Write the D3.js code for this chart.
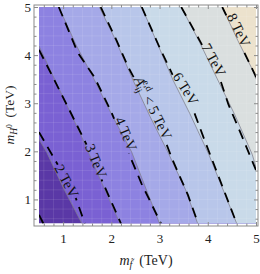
<!DOCTYPE html>
<html>
<head>
<meta charset="utf-8">
<script src="https://cdn.jsdelivr.net/npm/d3@7/dist/d3.min.js"></script>
<style>
  body { margin: 0; background: #fff; }
  svg { display: block; }
  text { font-family: "Liberation Serif", "DejaVu Serif", serif; fill: #222; }
</style>
</head>
<body>
<svg id="chart"></svg>
<script>
// contour levels of A_ij^{e,d} (TeV) and the fill colour of each band (lowest first)
var levels = [2, 3, 4, 5, 6, 7, 8];
var bandColors = ["#5a38a6", "#7a61d3", "#8d82e1", "#a5a9e8", "#b8c6ea", "#c9dae9", "#dadfdf", "#ece2cd"];

// filled contour boundaries, points are [m_f, m_H] in TeV
var edge2 = [[0.5, 2.25], [0.66, 1.98], [1.0, 1.25], [1.39, 0.5]];
var edge3 = [[0.5, 4.19], [0.93, 3.27], [1.35, 2.38], [1.76, 1.44], [2.18, 0.5]];
var edge4 = [[0.91, 5], [1.27, 4.21], [1.65, 3.48], [2.01, 2.76], [2.42, 1.99], [3.0, 0.5]];
var edge5 = [[1.75, 5], [2.09, 4.31], [2.45, 3.48], [2.8, 2.73], [3.17, 1.99], [3.54, 1.2], [3.79, 0.5]];
var edge6 = [[2.63, 5], [2.96, 4.23], [3.28, 3.48], [3.63, 2.78], [4.02, 1.94], [4.6, 0.5]];
var edge7 = [[3.45, 5], [3.83, 4.27], [4.19, 3.52], [4.56, 2.76], [4.92, 1.94], [5, 1.67]];
var edge8 = [[4.3, 5], [4.62, 4.31], [4.99, 3.57], [5, 3.5]];

// dashed (approximate) curves
var dash1 = [[0.5, 0.68], [0.59, 0.5]];
var dash2 = [[0.5, 2.4], [0.89, 1.72], [1.27, 1.01], [1.45, 0.5]];
var dash3 = [[0.5, 4.11], [0.82, 3.48], [1.13, 2.86], [1.54, 2.03], [1.82, 1.36], [2.2, 0.5]];
var dash4 = [[0.91, 5], [1.3, 4.06], [1.65, 3.54], [1.99, 2.84], [2.63, 1.32], [3.03, 0.5]];
var dash5 = [[1.78, 5], [2.11, 4.3], [2.35, 3.75], [2.73, 3.05], [3.04, 2.42], [3.27, 1.82], [3.59, 1.09], [3.8, 0.5]];
var dash6 = [[2.63, 5], [3.0, 4.16], [3.28, 3.57], [3.67, 2.94], [3.93, 2.24], [4.6, 0.5]];
var dash7 = [[3.45, 5], [3.85, 4.27], [4.23, 3.57], [4.43, 2.97], [4.71, 2.31], [5, 1.61]];
var dash8 = [[4.3, 5], [4.6, 4.38], [4.99, 3.57], [5, 3.52]];

// contour labels: text and where it sits [m_f, m_H]
var labelText = ["2 TeV", "3 TeV", "4 TeV", "5 TeV", "6 TeV", "7 TeV", "8 TeV"];
var labelPos = [[1.07, 1.38], [1.68, 1.8], [2.3, 2.36], [2.86, 2.9], [3.54, 3.3], [4.12, 3.9], [4.64, 4.52]];

var xTicks = [1, 2, 3, 4, 5];
var yTicks = [1, 2, 3, 4, 5];

var edges = [edge2, edge3, edge4, edge5, edge6, edge7, edge8];
var dashes = [dash1, dash2, dash3, dash4, dash5, dash6, dash7, dash8];
var labelLine = [dash2, dash3, dash4, dash5, dash6, dash7, dash8];

var width = 260, height = 274;
var svg = d3.select("#chart").attr("width", width).attr("height", height);

var x = d3.scaleLinear().domain([0.5, 5]).range([39, 256]);
var y = d3.scaleLinear().domain([0.5, 5]).range([223.5, 7]);

var frame = {left: 34, right: 258, top: 5, bottom: 226};

var defs = svg.append("defs");
defs.append("clipPath").attr("id", "plotclip")
  .append("rect")
  .attr("x", x(0.5)).attr("y", y(5))
  .attr("width", x(5) - x(0.5)).attr("height", y(0.5) - y(5));

var line = d3.line().x(function(d){ return x(d[0]); }).y(function(d){ return y(d[1]); });

var plot = svg.append("g").attr("clip-path", "url(#plotclip)");

// lowest band covers everything, each higher band painted on top
plot.append("rect")
  .attr("x", x(0.5)).attr("y", y(5))
  .attr("width", x(5) - x(0.5)).attr("height", y(0.5) - y(5))
  .attr("fill", bandColors[0]);

function highSide(pts){
  var poly = pts.slice();
  var last = pts[pts.length - 1], first = pts[0];
  if (last[1] <= 0.5) poly.push([5, 0.5]);
  poly.push([5, 5]);
  if (first[0] <= 0.5) poly.push([0.5, 5]);
  return poly;
}

plot.selectAll(".band")
  .data(edges)
  .enter()
  .append("path")
  .attr("class", "band")
  .attr("d", function(d){ return line(highSide(d)) + "Z"; })
  .attr("fill", function(d, i){ return bandColors[i + 1]; });

// faint mesh like the original rendering
var mesh = d3.range(0.6, 5, 0.2);
plot.selectAll(".vmesh").data(mesh).enter().append("line")
  .attr("x1", function(d){ return x(d); }).attr("x2", function(d){ return x(d); })
  .attr("y1", y(5)).attr("y2", y(0.5))
  .attr("stroke", "#fff").attr("stroke-opacity", 0.1).attr("stroke-width", 1);
plot.selectAll(".hmesh").data(mesh).enter().append("line")
  .attr("y1", function(d){ return y(d); }).attr("y2", function(d){ return y(d); })
  .attr("x1", x(0.5)).attr("x2", x(5))
  .attr("stroke", "#fff").attr("stroke-opacity", 0.1).attr("stroke-width", 1);

// grey contour edges
plot.selectAll(".edge")
  .data(edges)
  .enter()
  .append("path")
  .attr("class", "edge")
  .attr("d", line)
  .attr("fill", "none")
  .attr("stroke", "#80808c")
  .attr("stroke-width", 0.9)
  .attr("stroke-opacity", 0.85);

// mask so the dashes break around the labels
var mask = defs.append("mask").attr("id", "labelmask")
  .attr("maskUnits", "userSpaceOnUse")
  .attr("x", 0).attr("y", 0).attr("width", width).attr("height", height);
mask.append("rect").attr("width", width).attr("height", height).attr("fill", "#fff");

plot.append("g").attr("mask", "url(#labelmask)")
  .selectAll(".dash")
  .data(dashes)
  .enter()
  .append("path")
  .attr("class", "dash")
  .attr("d", line)
  .attr("fill", "none")
  .attr("stroke", "#000")
  .attr("stroke-width", 1.8)
  .attr("stroke-dasharray", "10,7");

function angleAt(pts, p){
  var py = y(p[1]);
  for (var i = 0; i < pts.length - 1; i++) {
    var y0 = y(pts[i][1]), y1 = y(pts[i + 1][1]);
    if (py >= y0 && py <= y1) {
      return Math.atan2(y1 - y0, x(pts[i + 1][0]) - x(pts[i][0])) * 180 / Math.PI;
    }
  }
  return 65;
}

var labels = plot.append("g");
labelText.forEach(function(t, i){
  var p = labelPos[i];
  var a = angleAt(labelLine[i], p);
  var tr = "translate(" + x(p[0]) + "," + y(p[1]) + ") rotate(" + a + ")";
  var tx = labels.append("text")
    .attr("transform", tr)
    .attr("text-anchor", "middle")
    .attr("dy", "0.33em")
    .style("font-size", "14.5px")
    .style("fill", "#111");
  if (i == 3) {
    tx.append("tspan").style("font-style", "italic").text("A");
    tx.append("tspan").style("font-size", "9.5px").attr("dy", 3).text("ij");
    tx.append("tspan").style("font-size", "9.5px").attr("dx", -8).attr("dy", -10).text("e,d");
    tx.append("tspan").attr("dy", 7).text(" < " + t);
  } else {
    tx.text(t);
  }
  var b = tx.node().getBBox();
  mask.append("rect")
    .attr("transform", tr)
    .attr("x", b.x - 1).attr("y", b.y + 1)
    .attr("width", b.width + 2).attr("height", b.height - 2)
    .attr("fill", "#000");
});

// frame
svg.append("rect")
  .attr("x", frame.left).attr("y", frame.top)
  .attr("width", frame.right - frame.left).attr("height", frame.bottom - frame.top)
  .attr("fill", "none").attr("stroke", "#8a8a8a").attr("stroke-width", 1);

var minor = d3.range(0.6, 5.01, 0.2).filter(function(v){ return Math.abs(v - Math.round(v)) > 0.05; });

function styleAxis(g){
  g.select(".domain").remove();
  g.selectAll(".tick line").attr("stroke", "#8a8a8a");
  g.selectAll(".tick text").style("font-size", "13px").style("fill", "#222")
    .style("font-family", "'Liberation Serif', 'DejaVu Serif', serif");
}

svg.append("g").attr("transform", "translate(0," + frame.bottom + ")")
  .call(d3.axisBottom(x).tickValues(xTicks).tickSizeInner(-4).tickSizeOuter(0).tickPadding(8).tickFormat(d3.format("d")))
  .call(styleAxis);
svg.append("g").attr("transform", "translate(0," + frame.bottom + ")")
  .call(d3.axisBottom(x).tickValues(minor).tickSizeInner(-2.5).tickSizeOuter(0).tickFormat(""))
  .call(styleAxis);
svg.append("g").attr("transform", "translate(0," + frame.top + ")")
  .call(d3.axisTop(x).tickValues(xTicks).tickSizeInner(-4).tickSizeOuter(0).tickFormat(""))
  .call(styleAxis);
svg.append("g").attr("transform", "translate(0," + frame.top + ")")
  .call(d3.axisTop(x).tickValues(minor).tickSizeInner(-2.5).tickSizeOuter(0).tickFormat(""))
  .call(styleAxis);

svg.append("g").attr("transform", "translate(" + frame.left + ",0)")
  .call(d3.axisLeft(y).tickValues(yTicks).tickSizeInner(-4).tickSizeOuter(0).tickPadding(3).tickFormat(d3.format("d")))
  .call(styleAxis);
svg.append("g").attr("transform", "translate(" + frame.left + ",0)")
  .call(d3.axisLeft(y).tickValues(minor).tickSizeInner(-2.5).tickSizeOuter(0).tickFormat(""))
  .call(styleAxis);
svg.append("g").attr("transform", "translate(" + frame.right + ",0)")
  .call(d3.axisRight(y).tickValues(yTicks).tickSizeInner(-4).tickSizeOuter(0).tickFormat(""))
  .call(styleAxis);
svg.append("g").attr("transform", "translate(" + frame.right + ",0)")
  .call(d3.axisRight(y).tickValues(minor).tickSizeInner(-2.5).tickSizeOuter(0).tickFormat(""))
  .call(styleAxis);

// axis titles
var xt = svg.append("text")
  .attr("x", 146).attr("y", 265)
  .attr("text-anchor", "middle")
  .style("font-size", "14px");
xt.append("tspan").style("font-style", "italic").text("m");
xt.append("tspan").style("font-style", "italic").style("font-size", "10px").attr("dy", 3).text("f\u0303");
xt.append("tspan").attr("dy", -3).text("\u2002(TeV)");

var yt = svg.append("text")
  .attr("transform", "translate(14,115) rotate(-90)")
  .attr("text-anchor", "middle")
  .style("font-size", "13.5px");
yt.append("tspan").style("font-style", "italic").text("m");
yt.append("tspan").style("font-style", "italic").style("font-size", "9.5px").attr("dy", 3).text("H");
yt.append("tspan").style("font-size", "7.5px").attr("dy", -5).text("0");
yt.append("tspan").attr("dy", 2).text("\u2002(TeV)");
</script>
</body>
</html>
